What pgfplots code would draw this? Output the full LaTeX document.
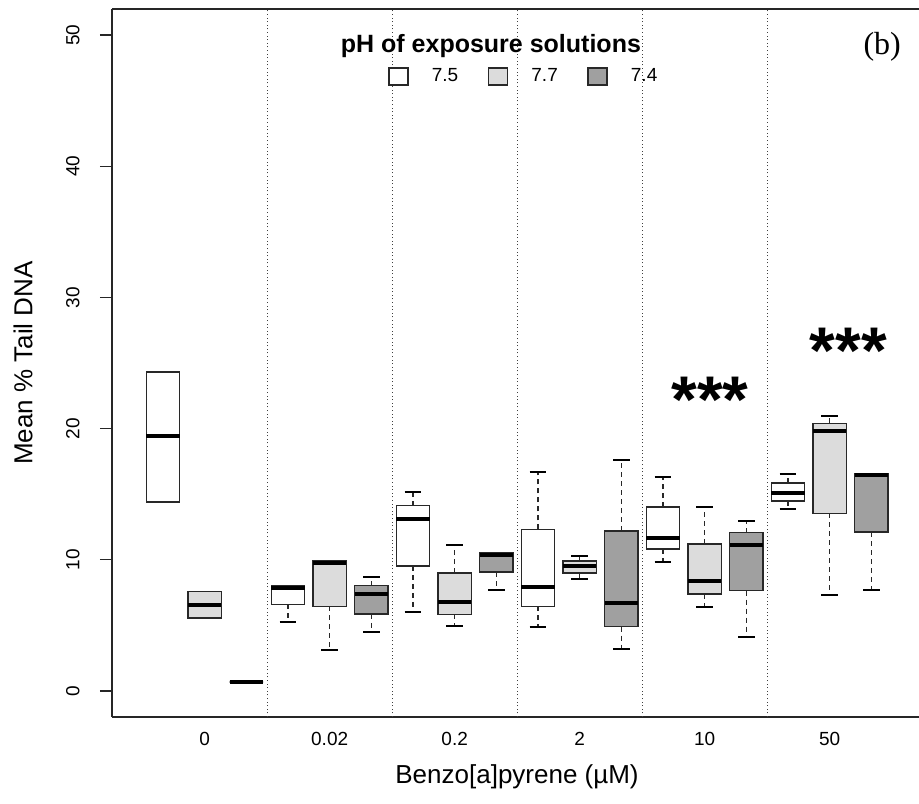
\documentclass[border=0pt]{standalone}
\usepackage{pgfplots}
\pgfplotsset{compat=1.18}
\usepgfplotslibrary{statistics}
\usepackage{fontspec}
\setmainfont{Liberation Sans}
\newfontfamily\seriffont{Liberation Serif}
\definecolor{boxlight}{RGB}{220,220,220}
\definecolor{boxdark}{RGB}{160,160,160}
\definecolor{edge}{RGB}{40,40,40}
\newcommand\myWhisker[2]{%
  \draw[edge, line width=0.6pt, dash pattern=on 2.5pt off 2pt] (boxplot whisker cs:#1,0.5) -- (boxplot whisker cs:#2,0.5);
  \draw[black, line width=1pt] (boxplot whisker cs:#2,0) -- (boxplot whisker cs:#2,1);
}
\pgfplotsset{
  /pgfplots/boxplot/draw/lower whisker/.code={\myWhisker{\pgfplotsboxplotvalue{lower quartile}}{\pgfplotsboxplotvalue{lower whisker}}},
  /pgfplots/boxplot/draw/upper whisker/.code={\myWhisker{\pgfplotsboxplotvalue{upper quartile}}{\pgfplotsboxplotvalue{upper whisker}}},
  wbox/.style={forget plot, boxplot/draw direction=y, boxplot/every box/.style={draw=edge, line width=0.75pt, fill=white}},
  lbox/.style={forget plot, boxplot/draw direction=y, boxplot/every box/.style={draw=edge, line width=0.75pt, fill=boxlight}},
  dbox/.style={forget plot, boxplot/draw direction=y, boxplot/every box/.style={draw=edge, line width=0.75pt, fill=boxdark}},
}
\begin{document}
\begin{tikzpicture}
\useasboundingbox (-56pt,-43pt) rectangle (403.5pt,358.5pt);
\begin{axis}[
  at={(0pt,0pt)}, anchor=south west,
  scale only axis, width=403.5pt, height=354pt,
  xmin=-0.224, xmax=19.144, ymin=-2, ymax=52,
  axis y line*=left,
  axis line style={draw=black!85, line width=0.8pt},
  xtick={2,5,8,11,14,17},
  xticklabels={0,0.02,0.2,2,10,50},
  x tick style={draw=none},
  ytick={0,10,20,30,40,50},
  y tick style={draw=black!85, line width=0.8pt},
  tick align=outside,
  major tick length=6pt,
  /pgf/number format/assume math mode=true,
  ticklabel style={font=\fontsize{9.5}{11}\selectfont},
  xticklabel style={yshift=-5pt, anchor=center, inner sep=0pt},
  yticklabel style={xshift=-10pt, rotate=90, anchor=south, inner sep=0pt},
  extra x ticks={3.5,6.5,9.5,12.5,15.5},
  extra x tick labels={},
  extra x tick style={grid=major, major grid style={draw=black!75, line width=0.5pt, dash pattern=on 0.5pt off 1.3pt}},
  every axis y label/.style={at={(rel axis cs:-0.11028,0.5)}, rotate=90, anchor=center, font=\fontsize{13}{15}\selectfont},
  every axis x label/.style={at={(rel axis cs:0.5019,-0.0842)}, anchor=center, font=\fontsize{13}{15}\selectfont},
  ylabel={Mean \% Tail DNA},
  xlabel={Benzo[a]pyrene (µM)},
  boxplot/box extend=0.8,
  boxplot/whisker extend=0.4,
  boxplot/every median/.style={draw=black, line width=2pt},
  legend columns=3,
  legend cell align=left,
  legend style={draw=none, fill=none, inner sep=0pt, at={(axis cs:6.40,46.85)}, anchor=west,
    font=\fontsize{9.5}{11}\selectfont, nodes={inner sep=0pt}, column sep=0pt,
    /tikz/every odd column/.append style={column sep=11.5pt},
    /tikz/every even column/.append style={column sep=14.8pt}},
]
\addlegendimage{legend image code/.code={\draw[draw=edge, line width=0.75pt, fill=white] (0pt,-4.25pt) rectangle (9.5pt,4.25pt);}}
\addlegendentry{7.5}
\addlegendimage{legend image code/.code={\draw[draw=edge, line width=0.75pt, fill=boxlight] (0pt,-4.25pt) rectangle (9.5pt,4.25pt);}}
\addlegendentry{7.7}
\addlegendimage{legend image code/.code={\draw[draw=edge, line width=0.75pt, fill=boxdark] (0pt,-4.25pt) rectangle (9.5pt,4.25pt);}}
\addlegendentry{7.4}

% BaP 0
\addplot[wbox, boxplot prepared={draw position=1, lower whisker=14.4, lower quartile=14.4, median=19.4, upper quartile=24.3, upper whisker=24.3}] coordinates {};
\addplot[lbox, boxplot prepared={draw position=2, lower whisker=5.54, lower quartile=5.54, median=6.55, upper quartile=7.57, upper whisker=7.57}] coordinates {};
\addplot[dbox, boxplot prepared={draw position=3, lower whisker=0.66, lower quartile=0.66, median=0.66, upper quartile=0.66, upper whisker=0.66}] coordinates {};
% BaP 0.02
\addplot[wbox, boxplot prepared={draw position=4, lower whisker=5.28, lower quartile=6.6, median=7.85, upper quartile=8.03, upper whisker=8.03}] coordinates {};
\addplot[lbox, boxplot prepared={draw position=5, lower whisker=3.1, lower quartile=6.43, median=9.78, upper quartile=9.9, upper whisker=9.9}] coordinates {};
\addplot[dbox, boxplot prepared={draw position=6, lower whisker=4.47, lower quartile=5.87, median=7.37, upper quartile=8.03, upper whisker=8.71}] coordinates {};
% BaP 0.2
\addplot[wbox, boxplot prepared={draw position=7, lower whisker=6.02, lower quartile=9.53, median=13.08, upper quartile=14.12, upper whisker=15.19}] coordinates {};
\addplot[lbox, boxplot prepared={draw position=8, lower whisker=4.93, lower quartile=5.82, median=6.76, upper quartile=8.97, upper whisker=11.15}] coordinates {};
\addplot[dbox, boxplot prepared={draw position=9, lower whisker=7.72, lower quartile=9.05, median=10.34, upper quartile=10.5, upper whisker=10.5}] coordinates {};
% BaP 2
\addplot[wbox, boxplot prepared={draw position=10, lower whisker=4.88, lower quartile=6.43, median=7.95, upper quartile=12.32, upper whisker=16.72}] coordinates {};
\addplot[lbox, boxplot prepared={draw position=11, lower whisker=8.51, lower quartile=8.97, median=9.48, upper quartile=9.91, upper whisker=10.31}] coordinates {};
\addplot[dbox, boxplot prepared={draw position=12, lower whisker=3.15, lower quartile=4.9, median=6.68, upper quartile=12.2, upper whisker=17.6}] coordinates {};
% BaP 10
\addplot[wbox, boxplot prepared={draw position=13, lower whisker=9.86, lower quartile=10.8, median=11.69, upper quartile=14.0, upper whisker=16.31}] coordinates {};
\addplot[lbox, boxplot prepared={draw position=14, lower whisker=6.4, lower quartile=7.39, median=8.38, upper quartile=11.2, upper whisker=14.05}] coordinates {};
\addplot[dbox, boxplot prepared={draw position=15, lower whisker=4.14, lower quartile=7.64, median=11.15, upper quartile=12.07, upper whisker=12.96}] coordinates {};
% BaP 50
\addplot[wbox, boxplot prepared={draw position=16, lower whisker=13.87, lower quartile=14.48, median=15.07, upper quartile=15.83, upper whisker=16.56}] coordinates {};
\addplot[lbox, boxplot prepared={draw position=17, lower whisker=7.32, lower quartile=13.54, median=19.84, upper quartile=20.4, upper whisker=20.96}] coordinates {};
\addplot[dbox, boxplot prepared={draw position=18, lower whisker=7.72, lower quartile=12.1, median=16.44, upper quartile=16.56, upper whisker=16.56}] coordinates {};

\node[anchor=base, inner sep=0pt, font=\bfseries\fontsize{12.5}{14}\selectfont] at (axis cs:8.87,48.72) {pH of exposure solutions};
\node[anchor=center, inner sep=0pt, font=\seriffont\fontsize{16}{18}\selectfont] at (axis cs:18.26,49.14) {(b)};
\node[anchor=north, inner sep=0pt, font=\bfseries\fontsize{33}{36}\selectfont] at (axis cs:14.13,23.94) {***};
\node[anchor=north, inner sep=0pt, font=\bfseries\fontsize{33}{36}\selectfont] at (axis cs:17.45,27.68) {***};
\end{axis}
\end{tikzpicture}
\end{document}
